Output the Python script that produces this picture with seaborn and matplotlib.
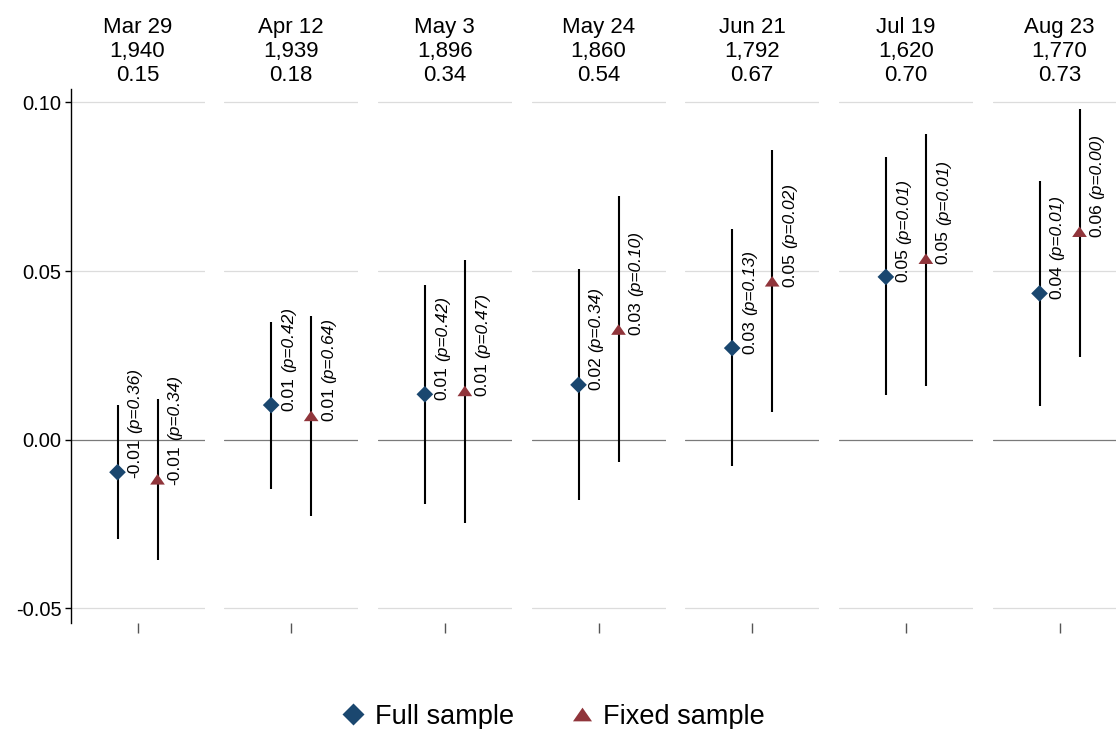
"""
Coefficient plot: full vs fixed sample estimates by survey wave.
"""

import matplotlib.pyplot as plt
import pandas as pd
import seaborn as sns
from matplotlib.lines import Line2D
from matplotlib.path import Path

dates = ["Mar 29", "Apr 12", "May 3", "May 24", "Jun 21", "Jul 19", "Aug 23"]
n_obs = ["1,940", "1,939", "1,896", "1,860", "1,792", "1,620", "1,770"]
r2_vals = ["0.15", "0.18", "0.34", "0.54", "0.67", "0.70", "0.73"]

full_est = [-0.0096, 0.0103, 0.0135, 0.0163, 0.0272, 0.0483, 0.0434]
full_lo = [-0.0295, -0.0145, -0.0190, -0.0178, -0.0077, 0.0132, 0.0101]
full_hi = [0.0104, 0.0349, 0.0458, 0.0505, 0.0626, 0.0837, 0.0767]
full_p = [0.36, 0.42, 0.42, 0.34, 0.13, 0.01, 0.01]

fixed_est = [-0.0117, 0.0071, 0.0145, 0.0327, 0.0470, 0.0537, 0.0617]
fixed_lo = [-0.0356, -0.0226, -0.0248, -0.0067, 0.0082, 0.0161, 0.0247]
fixed_hi = [0.0122, 0.0367, 0.0533, 0.0723, 0.0859, 0.0908, 0.0980]
fixed_p = [0.34, 0.64, 0.47, 0.10, 0.02, 0.01, 0.00]

y_ticks = [-0.05, 0.0, 0.05, 0.10]
y_tick_labels = ["-0.05", "0.00", "0.05", "0.10"]

NAVY = "#1a476f"
MAROON = "#90353b"
TRIANGLE = Path(
    [(-1, -0.72), (1, -0.72), (0, 0.72), (-1, -0.72)],
    [Path.MOVETO, Path.LINETO, Path.LINETO, Path.CLOSEPOLY],
)
palette = {"Full sample": NAVY, "Fixed sample": MAROON}
markers = {"Full sample": "D", "Fixed sample": TRIANGLE}
sizes = {"Full sample": 72, "Fixed sample": 112}

rows = []
for i, d in enumerate(dates):
    rows.append(dict(date=d, sample="Full sample", pos=0, est=full_est[i],
                     lo=full_lo[i], hi=full_hi[i], p=full_p[i]))
    rows.append(dict(date=d, sample="Fixed sample", pos=1, est=fixed_est[i],
                     lo=fixed_lo[i], hi=fixed_hi[i], p=fixed_p[i]))
df = pd.DataFrame(rows)

sns.set_theme(style="white")
plt.rcParams["font.family"] = ["Liberation Sans", "DejaVu Sans"]
plt.rcParams["text.color"] = "black"
plt.rcParams["ytick.color"] = "black"
plt.rcParams["axes.titlecolor"] = "black"

W, H = 1116, 729
fig = plt.figure(figsize=(W / 100, H / 100), dpi=100)

for i, d in enumerate(dates):
    left = 70.5 + 153.67 * i
    ax = fig.add_axes([left / W, (H - 623) / H, 134 / W, 534 / H])
    sub = df[df["date"] == d]

    for y in [0.10, 0.05, -0.05]:
        ax.axhline(y, color="#dcdcdc", lw=0.9, zorder=0)
    ax.axhline(0, color="#7a7a7a", lw=0.9, zorder=0)

    ax.vlines(sub["pos"], sub["lo"], sub["hi"], color="black", lw=1.5, zorder=1)
    sns.scatterplot(
        data=sub, x="pos", y="est", hue="sample", style="sample", size="sample",
        palette=palette, markers=markers, sizes=sizes, edgecolor="none",
        legend=False, ax=ax, zorder=3,
    )

    for _, r in sub.iterrows():
        t1 = ax.annotate(
            f"{r.est:.2f}", xy=(r.pos, r.est), xytext=(12.5, -4),
            textcoords="offset points", rotation=90, rotation_mode="anchor",
            ha="left", va="center", fontsize=12.5, color="black",
        )
        ax.annotate(
            f"(p={r.p:.2f})", xy=(0.5, 1), xycoords=t1, xytext=(0, 3.5),
            textcoords="offset points", rotation=90, rotation_mode="anchor",
            ha="left", va="center", fontsize=12.5, style="italic", color="black",
        )

    ax.set_xlim(-1.175, 2.175)
    ax.set_ylim(-0.0543, 0.104)
    ax.set_xlabel("")
    ax.set_ylabel("")
    ax.set_xticks([0.5])
    ax.set_xticklabels([""])
    ax.tick_params(axis="x", bottom=True, direction="out", length=7, width=1,
                   color="#555555")
    for s in ["top", "right", "bottom"]:
        ax.spines[s].set_visible(False)

    if i == 0:
        ax.set_yticks(y_ticks)
        ax.set_yticklabels(y_tick_labels)
        ax.tick_params(axis="y", left=True, direction="out", length=4.5,
                       width=1, color="black", labelcolor="black",
                       labelsize=14.5, pad=2)
        ax.spines["left"].set_color("black")
        ax.spines["left"].set_linewidth(1)
    else:
        ax.set_yticks([])
        ax.spines["left"].set_visible(False)

    ax.set_title(f"{d}\n{n_obs[i]}\n{r2_vals[i]}", fontsize=16, pad=6,
                 linespacing=1.17, color="black")

handles = [
    Line2D([], [], ls="none", marker="D", color=NAVY, markersize=11.5, mec="none"),
    Line2D([], [], ls="none", marker=TRIANGLE, color=MAROON, markersize=13.7, mec="none"),
]
fig.legend(handles, ["Full sample", "Fixed sample"], loc="center",
           bbox_to_anchor=(0.495, 0.017), ncol=2, frameon=False, fontsize=19.5,
           handletextpad=0.3, columnspacing=2.0, handlelength=1.0,
           labelcolor="black")

fig.savefig("out.png", dpi=100)
